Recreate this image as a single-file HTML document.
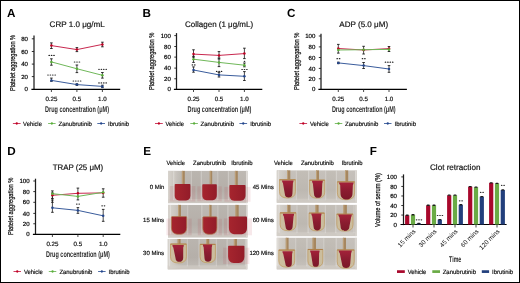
<!DOCTYPE html>
<html><head><meta charset="utf-8"><style>
html,body{margin:0;padding:0;background:#fff;width:520px;height:283px;overflow:hidden;position:relative}
svg{display:block;will-change:transform}
text{font-family:"Liberation Sans",sans-serif;text-rendering:geometricPrecision}
.vl{position:absolute;font-family:"Liberation Sans",sans-serif;white-space:nowrap;line-height:1;font-kerning:none;transform-origin:0 0;will-change:transform;transform:rotate(-90deg);filter:blur(0.25px)}
.vl span{display:inline-block;transform-origin:0 0}
</style></head><body>
<svg xmlns="http://www.w3.org/2000/svg" width="520" height="283" viewBox="0 0 520 283">
<defs>
<linearGradient id="pbg" x1="0" y1="0" x2="0" y2="1">
<stop offset="0" stop-color="#bab5af"/><stop offset="0.6" stop-color="#b5afa9"/><stop offset="1" stop-color="#c2bdb7"/>
</linearGradient>
<linearGradient id="pbg2" x1="0" y1="0" x2="0" y2="1">
<stop offset="0" stop-color="#c3beb7"/><stop offset="0.6" stop-color="#bdb8b1"/><stop offset="1" stop-color="#c8c3bd"/>
</linearGradient>
<linearGradient id="lm" x1="0" y1="0" x2="1" y2="0">
<stop offset="0" stop-color="#d8d4ce" stop-opacity="1"/><stop offset="0.5" stop-color="#d0cbc4" stop-opacity="0.7"/><stop offset="1" stop-color="#c8c3bc" stop-opacity="0"/>
</linearGradient>
<linearGradient id="rg" x1="0" y1="0" x2="1" y2="0">
<stop offset="0" stop-color="#a6252e"/><stop offset="1" stop-color="#931c29"/>
</linearGradient>
<linearGradient id="rg2" x1="0" y1="0" x2="0" y2="1">
<stop offset="0" stop-color="#a4223a"/><stop offset="0.5" stop-color="#8a1c30"/><stop offset="1" stop-color="#7c1828"/>
</linearGradient>
<linearGradient id="tube" x1="0" y1="0" x2="0" y2="1">
<stop offset="0" stop-color="#c6c1ba"/><stop offset="1" stop-color="#cdc9c3"/>
</linearGradient>
</defs>
<rect x="0" y="0" width="520" height="283" fill="#fff"/>
<line x1="34.00" y1="35.60" x2="34.00" y2="90.00" stroke="#1c1c1c" stroke-width="1.25"/>
<line x1="31.40" y1="89.40" x2="120.20" y2="89.40" stroke="#000" stroke-width="1.15"/>
<text x="28.00" y="91.25" font-size="6.1" text-anchor="end" font-weight="normal" fill="#000" stroke="#000" stroke-width="0.18">0</text>
<line x1="31.80" y1="76.60" x2="34.00" y2="76.60" stroke="#1c1c1c" stroke-width="0.9"/>
<text x="28.00" y="78.75" font-size="6.1" text-anchor="end" font-weight="normal" fill="#000" stroke="#000" stroke-width="0.18">20</text>
<line x1="31.80" y1="64.10" x2="34.00" y2="64.10" stroke="#1c1c1c" stroke-width="0.9"/>
<text x="28.00" y="66.25" font-size="6.1" text-anchor="end" font-weight="normal" fill="#000" stroke="#000" stroke-width="0.18">40</text>
<line x1="31.80" y1="51.50" x2="34.00" y2="51.50" stroke="#1c1c1c" stroke-width="0.9"/>
<text x="28.00" y="53.65" font-size="6.1" text-anchor="end" font-weight="normal" fill="#000" stroke="#000" stroke-width="0.18">60</text>
<line x1="31.80" y1="38.80" x2="34.00" y2="38.80" stroke="#1c1c1c" stroke-width="0.9"/>
<text x="28.00" y="40.95" font-size="6.1" text-anchor="end" font-weight="normal" fill="#000" stroke="#000" stroke-width="0.18">80</text>
<line x1="51.40" y1="89.40" x2="51.40" y2="92.00" stroke="#1c1c1c" stroke-width="0.8"/>
<line x1="76.90" y1="89.40" x2="76.90" y2="92.00" stroke="#1c1c1c" stroke-width="0.8"/>
<line x1="102.40" y1="89.40" x2="102.40" y2="92.00" stroke="#1c1c1c" stroke-width="0.8"/>
<text x="51.40" y="100.70" font-size="6.2" text-anchor="middle" font-weight="normal" fill="#111111" stroke="#111111" stroke-width="0.18">0.25</text>
<text x="76.90" y="100.70" font-size="6.2" text-anchor="middle" font-weight="normal" fill="#111111" stroke="#111111" stroke-width="0.18">0.5</text>
<text x="102.40" y="100.70" font-size="6.2" text-anchor="middle" font-weight="normal" fill="#111111" stroke="#111111" stroke-width="0.18">1.0</text>
<text x="45.00" y="112.10" font-size="8.3" font-weight="bold" text-anchor="start" fill="#2a2a2a" textLength="64.00" lengthAdjust="spacingAndGlyphs">Drug concentration (μM)</text>
<text x="49.60" y="27.00" font-size="8" text-anchor="start" font-weight="normal" fill="#111111" textLength="55.20" lengthAdjust="spacingAndGlyphs" stroke="#111111" stroke-width="0.18">CRP 1.0 μg/mL</text>
<text x="7.00" y="16.50" font-size="11.7" text-anchor="start" font-weight="bold" fill="#000">A</text>
<polyline points="51.40,45.60 76.90,49.60 102.40,44.40" fill="none" stroke="#c8284f" stroke-width="1.0"/>
<polyline points="51.40,61.90 76.90,68.75 102.40,75.30" fill="none" stroke="#70b85a" stroke-width="1.0"/>
<polyline points="51.40,80.40 76.90,84.60 102.40,86.40" fill="none" stroke="#3a5c9c" stroke-width="1.0"/>
<line x1="51.40" y1="42.90" x2="51.40" y2="48.50" stroke="#1c1c1c" stroke-width="0.8"/>
<line x1="50.10" y1="42.90" x2="52.70" y2="42.90" stroke="#1c1c1c" stroke-width="0.9"/>
<line x1="50.10" y1="48.50" x2="52.70" y2="48.50" stroke="#1c1c1c" stroke-width="0.9"/>
<line x1="76.90" y1="47.60" x2="76.90" y2="51.60" stroke="#1c1c1c" stroke-width="0.8"/>
<line x1="75.60" y1="47.60" x2="78.20" y2="47.60" stroke="#1c1c1c" stroke-width="0.9"/>
<line x1="75.60" y1="51.60" x2="78.20" y2="51.60" stroke="#1c1c1c" stroke-width="0.9"/>
<line x1="102.40" y1="42.20" x2="102.40" y2="46.80" stroke="#1c1c1c" stroke-width="0.8"/>
<line x1="101.10" y1="42.20" x2="103.70" y2="42.20" stroke="#1c1c1c" stroke-width="0.9"/>
<line x1="101.10" y1="46.80" x2="103.70" y2="46.80" stroke="#1c1c1c" stroke-width="0.9"/>
<line x1="51.40" y1="58.80" x2="51.40" y2="65.20" stroke="#1c1c1c" stroke-width="0.8"/>
<line x1="50.10" y1="58.80" x2="52.70" y2="58.80" stroke="#1c1c1c" stroke-width="0.9"/>
<line x1="50.10" y1="65.20" x2="52.70" y2="65.20" stroke="#1c1c1c" stroke-width="0.9"/>
<line x1="76.90" y1="65.00" x2="76.90" y2="72.60" stroke="#1c1c1c" stroke-width="0.8"/>
<line x1="75.60" y1="65.00" x2="78.20" y2="65.00" stroke="#1c1c1c" stroke-width="0.9"/>
<line x1="75.60" y1="72.60" x2="78.20" y2="72.60" stroke="#1c1c1c" stroke-width="0.9"/>
<line x1="102.40" y1="72.50" x2="102.40" y2="78.10" stroke="#1c1c1c" stroke-width="0.8"/>
<line x1="101.10" y1="72.50" x2="103.70" y2="72.50" stroke="#1c1c1c" stroke-width="0.9"/>
<line x1="101.10" y1="78.10" x2="103.70" y2="78.10" stroke="#1c1c1c" stroke-width="0.9"/>
<line x1="51.40" y1="78.10" x2="51.40" y2="81.30" stroke="#1c1c1c" stroke-width="0.8"/>
<line x1="50.10" y1="78.10" x2="52.70" y2="78.10" stroke="#1c1c1c" stroke-width="0.9"/>
<line x1="50.10" y1="81.30" x2="52.70" y2="81.30" stroke="#1c1c1c" stroke-width="0.9"/>
<line x1="76.90" y1="83.80" x2="76.90" y2="85.40" stroke="#1c1c1c" stroke-width="0.8"/>
<line x1="75.60" y1="83.80" x2="78.20" y2="83.80" stroke="#1c1c1c" stroke-width="0.9"/>
<line x1="75.60" y1="85.40" x2="78.20" y2="85.40" stroke="#1c1c1c" stroke-width="0.9"/>
<line x1="102.40" y1="85.20" x2="102.40" y2="87.60" stroke="#1c1c1c" stroke-width="0.8"/>
<line x1="101.10" y1="85.20" x2="103.70" y2="85.20" stroke="#1c1c1c" stroke-width="0.9"/>
<line x1="101.10" y1="87.60" x2="103.70" y2="87.60" stroke="#1c1c1c" stroke-width="0.9"/>
<circle cx="51.40" cy="45.60" r="1.25" fill="#c00022"/>
<circle cx="76.90" cy="49.60" r="1.25" fill="#c00022"/>
<circle cx="102.40" cy="44.40" r="1.25" fill="#c00022"/>
<circle cx="51.40" cy="61.90" r="1.25" fill="#5aae3a"/>
<circle cx="76.90" cy="68.75" r="1.25" fill="#5aae3a"/>
<circle cx="102.40" cy="75.30" r="1.25" fill="#5aae3a"/>
<circle cx="51.40" cy="80.40" r="1.25" fill="#24468c"/>
<circle cx="76.90" cy="84.60" r="1.25" fill="#24468c"/>
<circle cx="102.40" cy="86.40" r="1.25" fill="#24468c"/>
<ellipse cx="49.20" cy="55.40" rx="0.85" ry="0.6" fill="#1c1c1c"/>
<ellipse cx="51.60" cy="55.40" rx="0.85" ry="0.6" fill="#1c1c1c"/>
<ellipse cx="54.00" cy="55.40" rx="0.85" ry="0.6" fill="#1c1c1c"/>
<ellipse cx="74.60" cy="62.00" rx="0.85" ry="0.6" fill="#1c1c1c"/>
<ellipse cx="77.00" cy="62.00" rx="0.85" ry="0.6" fill="#1c1c1c"/>
<ellipse cx="79.40" cy="62.00" rx="0.85" ry="0.6" fill="#1c1c1c"/>
<ellipse cx="99.00" cy="69.30" rx="0.85" ry="0.6" fill="#1c1c1c"/>
<ellipse cx="101.40" cy="69.30" rx="0.85" ry="0.6" fill="#1c1c1c"/>
<ellipse cx="103.80" cy="69.30" rx="0.85" ry="0.6" fill="#1c1c1c"/>
<ellipse cx="106.20" cy="69.30" rx="0.85" ry="0.6" fill="#1c1c1c"/>
<ellipse cx="48.00" cy="75.00" rx="0.85" ry="0.6" fill="#1c1c1c"/>
<ellipse cx="50.40" cy="75.00" rx="0.85" ry="0.6" fill="#1c1c1c"/>
<ellipse cx="52.80" cy="75.00" rx="0.85" ry="0.6" fill="#1c1c1c"/>
<ellipse cx="55.20" cy="75.00" rx="0.85" ry="0.6" fill="#1c1c1c"/>
<ellipse cx="73.40" cy="81.00" rx="0.85" ry="0.6" fill="#1c1c1c"/>
<ellipse cx="75.80" cy="81.00" rx="0.85" ry="0.6" fill="#1c1c1c"/>
<ellipse cx="78.20" cy="81.00" rx="0.85" ry="0.6" fill="#1c1c1c"/>
<ellipse cx="80.60" cy="81.00" rx="0.85" ry="0.6" fill="#1c1c1c"/>
<ellipse cx="99.00" cy="82.90" rx="0.85" ry="0.6" fill="#1c1c1c"/>
<ellipse cx="101.40" cy="82.90" rx="0.85" ry="0.6" fill="#1c1c1c"/>
<ellipse cx="103.80" cy="82.90" rx="0.85" ry="0.6" fill="#1c1c1c"/>
<ellipse cx="106.20" cy="82.90" rx="0.85" ry="0.6" fill="#1c1c1c"/>
<line x1="12.90" y1="123.50" x2="20.60" y2="123.50" stroke="#c8284f" stroke-width="0.9"/>
<circle cx="16.75" cy="123.50" r="1.15" fill="#c00022"/>
<text x="23.10" y="125.70" font-size="6.2" text-anchor="start" font-weight="normal" fill="#111111" textLength="18.80" lengthAdjust="spacingAndGlyphs" stroke="#111111" stroke-width="0.18">Vehicle</text>
<line x1="48.10" y1="123.50" x2="55.60" y2="123.50" stroke="#70b85a" stroke-width="0.9"/>
<circle cx="51.85" cy="123.50" r="1.15" fill="#5aae3a"/>
<text x="58.50" y="125.70" font-size="6.2" text-anchor="start" font-weight="normal" fill="#111111" textLength="33.40" lengthAdjust="spacingAndGlyphs" stroke="#111111" stroke-width="0.18">Zanubrutinib</text>
<line x1="97.30" y1="123.50" x2="105.00" y2="123.50" stroke="#3a5c9c" stroke-width="0.9"/>
<circle cx="101.15" cy="123.50" r="1.15" fill="#24468c"/>
<text x="108.10" y="125.70" font-size="6.2" text-anchor="start" font-weight="normal" fill="#111111" textLength="20.90" lengthAdjust="spacingAndGlyphs" stroke="#111111" stroke-width="0.18">Ibrutinib</text>
<line x1="176.50" y1="33.10" x2="176.50" y2="90.00" stroke="#1c1c1c" stroke-width="1.25"/>
<line x1="173.90" y1="89.40" x2="262.30" y2="89.40" stroke="#000" stroke-width="1.15"/>
<text x="170.90" y="91.25" font-size="6.1" text-anchor="end" font-weight="normal" fill="#000" stroke="#000" stroke-width="0.18">0</text>
<line x1="174.30" y1="78.75" x2="176.50" y2="78.75" stroke="#1c1c1c" stroke-width="0.9"/>
<text x="170.90" y="80.90" font-size="6.1" text-anchor="end" font-weight="normal" fill="#000" stroke="#000" stroke-width="0.18">20</text>
<line x1="174.30" y1="68.10" x2="176.50" y2="68.10" stroke="#1c1c1c" stroke-width="0.9"/>
<text x="170.90" y="70.25" font-size="6.1" text-anchor="end" font-weight="normal" fill="#000" stroke="#000" stroke-width="0.18">40</text>
<line x1="174.30" y1="57.10" x2="176.50" y2="57.10" stroke="#1c1c1c" stroke-width="0.9"/>
<text x="170.90" y="59.25" font-size="6.1" text-anchor="end" font-weight="normal" fill="#000" stroke="#000" stroke-width="0.18">60</text>
<line x1="174.30" y1="46.50" x2="176.50" y2="46.50" stroke="#1c1c1c" stroke-width="0.9"/>
<text x="170.90" y="48.65" font-size="6.1" text-anchor="end" font-weight="normal" fill="#000" stroke="#000" stroke-width="0.18">80</text>
<line x1="174.30" y1="35.60" x2="176.50" y2="35.60" stroke="#1c1c1c" stroke-width="0.9"/>
<text x="170.90" y="37.75" font-size="6.1" text-anchor="end" font-weight="normal" fill="#000" stroke="#000" stroke-width="0.18">100</text>
<line x1="193.50" y1="89.40" x2="193.50" y2="92.00" stroke="#1c1c1c" stroke-width="0.8"/>
<line x1="219.00" y1="89.40" x2="219.00" y2="92.00" stroke="#1c1c1c" stroke-width="0.8"/>
<line x1="244.40" y1="89.40" x2="244.40" y2="92.00" stroke="#1c1c1c" stroke-width="0.8"/>
<text x="193.50" y="100.70" font-size="6.2" text-anchor="middle" font-weight="normal" fill="#111111" stroke="#111111" stroke-width="0.18">0.25</text>
<text x="219.00" y="100.70" font-size="6.2" text-anchor="middle" font-weight="normal" fill="#111111" stroke="#111111" stroke-width="0.18">0.5</text>
<text x="244.40" y="100.70" font-size="6.2" text-anchor="middle" font-weight="normal" fill="#111111" stroke="#111111" stroke-width="0.18">1.0</text>
<text x="187.50" y="112.10" font-size="8.3" font-weight="bold" text-anchor="start" fill="#2a2a2a" textLength="63.80" lengthAdjust="spacingAndGlyphs">Drug concentration (μM)</text>
<text x="185.10" y="27.00" font-size="8" text-anchor="start" font-weight="normal" fill="#111111" textLength="68.00" lengthAdjust="spacingAndGlyphs" stroke="#111111" stroke-width="0.18">Collagen (1 μg/mL)</text>
<text x="142.60" y="16.50" font-size="11.7" text-anchor="start" font-weight="bold" fill="#000">B</text>
<polyline points="193.50,54.10 219.00,55.40 244.40,53.60" fill="none" stroke="#c8284f" stroke-width="1.0"/>
<polyline points="193.50,59.20 219.00,62.40 244.40,65.20" fill="none" stroke="#70b85a" stroke-width="1.0"/>
<polyline points="193.50,70.00 219.00,74.90 244.40,76.30" fill="none" stroke="#3a5c9c" stroke-width="1.0"/>
<line x1="193.50" y1="49.80" x2="193.50" y2="57.20" stroke="#1c1c1c" stroke-width="0.8"/>
<line x1="192.20" y1="49.80" x2="194.80" y2="49.80" stroke="#1c1c1c" stroke-width="0.9"/>
<line x1="192.20" y1="57.20" x2="194.80" y2="57.20" stroke="#1c1c1c" stroke-width="0.9"/>
<line x1="219.00" y1="51.60" x2="219.00" y2="59.00" stroke="#1c1c1c" stroke-width="0.8"/>
<line x1="217.70" y1="51.60" x2="220.30" y2="51.60" stroke="#1c1c1c" stroke-width="0.9"/>
<line x1="217.70" y1="59.00" x2="220.30" y2="59.00" stroke="#1c1c1c" stroke-width="0.9"/>
<line x1="244.40" y1="48.20" x2="244.40" y2="58.60" stroke="#1c1c1c" stroke-width="0.8"/>
<line x1="243.10" y1="48.20" x2="245.70" y2="48.20" stroke="#1c1c1c" stroke-width="0.9"/>
<line x1="243.10" y1="58.60" x2="245.70" y2="58.60" stroke="#1c1c1c" stroke-width="0.9"/>
<line x1="193.50" y1="56.30" x2="193.50" y2="62.40" stroke="#1c1c1c" stroke-width="0.8"/>
<line x1="192.20" y1="56.30" x2="194.80" y2="56.30" stroke="#1c1c1c" stroke-width="0.9"/>
<line x1="192.20" y1="62.40" x2="194.80" y2="62.40" stroke="#1c1c1c" stroke-width="0.9"/>
<line x1="219.00" y1="58.00" x2="219.00" y2="66.60" stroke="#1c1c1c" stroke-width="0.8"/>
<line x1="217.70" y1="58.00" x2="220.30" y2="58.00" stroke="#1c1c1c" stroke-width="0.9"/>
<line x1="217.70" y1="66.60" x2="220.30" y2="66.60" stroke="#1c1c1c" stroke-width="0.9"/>
<line x1="244.40" y1="63.00" x2="244.40" y2="66.80" stroke="#1c1c1c" stroke-width="0.8"/>
<line x1="243.10" y1="63.00" x2="245.70" y2="63.00" stroke="#1c1c1c" stroke-width="0.9"/>
<line x1="243.10" y1="66.80" x2="245.70" y2="66.80" stroke="#1c1c1c" stroke-width="0.9"/>
<line x1="193.50" y1="66.90" x2="193.50" y2="72.20" stroke="#1c1c1c" stroke-width="0.8"/>
<line x1="192.20" y1="66.90" x2="194.80" y2="66.90" stroke="#1c1c1c" stroke-width="0.9"/>
<line x1="192.20" y1="72.20" x2="194.80" y2="72.20" stroke="#1c1c1c" stroke-width="0.9"/>
<line x1="219.00" y1="72.60" x2="219.00" y2="77.00" stroke="#1c1c1c" stroke-width="0.8"/>
<line x1="217.70" y1="72.60" x2="220.30" y2="72.60" stroke="#1c1c1c" stroke-width="0.9"/>
<line x1="217.70" y1="77.00" x2="220.30" y2="77.00" stroke="#1c1c1c" stroke-width="0.9"/>
<line x1="244.40" y1="71.60" x2="244.40" y2="80.50" stroke="#1c1c1c" stroke-width="0.8"/>
<line x1="243.10" y1="71.60" x2="245.70" y2="71.60" stroke="#1c1c1c" stroke-width="0.9"/>
<line x1="243.10" y1="80.50" x2="245.70" y2="80.50" stroke="#1c1c1c" stroke-width="0.9"/>
<circle cx="193.50" cy="54.10" r="1.25" fill="#c00022"/>
<circle cx="219.00" cy="55.40" r="1.25" fill="#c00022"/>
<circle cx="244.40" cy="53.60" r="1.25" fill="#c00022"/>
<circle cx="193.50" cy="59.20" r="1.25" fill="#5aae3a"/>
<circle cx="219.00" cy="62.40" r="1.25" fill="#5aae3a"/>
<circle cx="244.40" cy="65.20" r="1.25" fill="#5aae3a"/>
<circle cx="193.50" cy="70.00" r="1.25" fill="#24468c"/>
<circle cx="219.00" cy="74.90" r="1.25" fill="#24468c"/>
<circle cx="244.40" cy="76.30" r="1.25" fill="#24468c"/>
<ellipse cx="192.40" cy="64.90" rx="0.85" ry="0.6" fill="#1c1c1c"/>
<ellipse cx="194.80" cy="64.90" rx="0.85" ry="0.6" fill="#1c1c1c"/>
<ellipse cx="216.70" cy="71.40" rx="0.85" ry="0.6" fill="#1c1c1c"/>
<ellipse cx="219.10" cy="71.40" rx="0.85" ry="0.6" fill="#1c1c1c"/>
<ellipse cx="221.50" cy="71.40" rx="0.85" ry="0.6" fill="#1c1c1c"/>
<ellipse cx="244.50" cy="61.30" rx="0.85" ry="0.6" fill="#1c1c1c"/>
<ellipse cx="242.10" cy="69.50" rx="0.85" ry="0.6" fill="#1c1c1c"/>
<ellipse cx="244.50" cy="69.50" rx="0.85" ry="0.6" fill="#1c1c1c"/>
<ellipse cx="246.90" cy="69.50" rx="0.85" ry="0.6" fill="#1c1c1c"/>
<line x1="155.00" y1="123.50" x2="162.80" y2="123.50" stroke="#c8284f" stroke-width="0.9"/>
<circle cx="158.90" cy="123.50" r="1.15" fill="#c00022"/>
<text x="165.60" y="125.70" font-size="6.2" text-anchor="start" font-weight="normal" fill="#111111" textLength="18.40" lengthAdjust="spacingAndGlyphs" stroke="#111111" stroke-width="0.18">Vehicle</text>
<line x1="190.30" y1="123.50" x2="197.90" y2="123.50" stroke="#70b85a" stroke-width="0.9"/>
<circle cx="194.10" cy="123.50" r="1.15" fill="#5aae3a"/>
<text x="200.60" y="125.70" font-size="6.2" text-anchor="start" font-weight="normal" fill="#111111" textLength="33.40" lengthAdjust="spacingAndGlyphs" stroke="#111111" stroke-width="0.18">Zanubrutinib</text>
<line x1="239.40" y1="123.50" x2="247.10" y2="123.50" stroke="#3a5c9c" stroke-width="0.9"/>
<circle cx="243.25" cy="123.50" r="1.15" fill="#24468c"/>
<text x="250.20" y="125.70" font-size="6.2" text-anchor="start" font-weight="normal" fill="#111111" textLength="20.90" lengthAdjust="spacingAndGlyphs" stroke="#111111" stroke-width="0.18">Ibrutinib</text>
<line x1="321.00" y1="33.70" x2="321.00" y2="90.00" stroke="#1c1c1c" stroke-width="1.25"/>
<line x1="318.40" y1="89.40" x2="406.90" y2="89.40" stroke="#000" stroke-width="1.15"/>
<text x="315.30" y="91.25" font-size="6.1" text-anchor="end" font-weight="normal" fill="#000" stroke="#000" stroke-width="0.18">0</text>
<line x1="318.80" y1="78.75" x2="321.00" y2="78.75" stroke="#1c1c1c" stroke-width="0.9"/>
<text x="315.30" y="80.90" font-size="6.1" text-anchor="end" font-weight="normal" fill="#000" stroke="#000" stroke-width="0.18">20</text>
<line x1="318.80" y1="68.40" x2="321.00" y2="68.40" stroke="#1c1c1c" stroke-width="0.9"/>
<text x="315.30" y="70.55" font-size="6.1" text-anchor="end" font-weight="normal" fill="#000" stroke="#000" stroke-width="0.18">40</text>
<line x1="318.80" y1="57.50" x2="321.00" y2="57.50" stroke="#1c1c1c" stroke-width="0.9"/>
<text x="315.30" y="59.65" font-size="6.1" text-anchor="end" font-weight="normal" fill="#000" stroke="#000" stroke-width="0.18">60</text>
<line x1="318.80" y1="46.90" x2="321.00" y2="46.90" stroke="#1c1c1c" stroke-width="0.9"/>
<text x="315.30" y="49.05" font-size="6.1" text-anchor="end" font-weight="normal" fill="#000" stroke="#000" stroke-width="0.18">80</text>
<line x1="318.80" y1="36.00" x2="321.00" y2="36.00" stroke="#1c1c1c" stroke-width="0.9"/>
<text x="315.30" y="38.15" font-size="6.1" text-anchor="end" font-weight="normal" fill="#000" stroke="#000" stroke-width="0.18">100</text>
<line x1="338.30" y1="89.40" x2="338.30" y2="92.00" stroke="#1c1c1c" stroke-width="0.8"/>
<line x1="363.60" y1="89.40" x2="363.60" y2="92.00" stroke="#1c1c1c" stroke-width="0.8"/>
<line x1="389.00" y1="89.40" x2="389.00" y2="92.00" stroke="#1c1c1c" stroke-width="0.8"/>
<text x="338.30" y="100.70" font-size="6.2" text-anchor="middle" font-weight="normal" fill="#111111" stroke="#111111" stroke-width="0.18">0.25</text>
<text x="363.60" y="100.70" font-size="6.2" text-anchor="middle" font-weight="normal" fill="#111111" stroke="#111111" stroke-width="0.18">0.5</text>
<text x="389.00" y="100.70" font-size="6.2" text-anchor="middle" font-weight="normal" fill="#111111" stroke="#111111" stroke-width="0.18">1.0</text>
<text x="331.90" y="112.10" font-size="8.3" font-weight="bold" text-anchor="start" fill="#2a2a2a" textLength="63.70" lengthAdjust="spacingAndGlyphs">Drug concentration (μM)</text>
<text x="339.30" y="27.00" font-size="8" text-anchor="start" font-weight="normal" fill="#111111" textLength="48.80" lengthAdjust="spacingAndGlyphs" stroke="#111111" stroke-width="0.18">ADP (5.0 μM)</text>
<text x="286.90" y="16.50" font-size="11.7" text-anchor="start" font-weight="bold" fill="#000">C</text>
<polyline points="338.30,48.50 363.60,50.00 389.00,48.60" fill="none" stroke="#c8284f" stroke-width="1.0"/>
<polyline points="338.30,50.00 363.60,49.70 389.00,49.40" fill="none" stroke="#70b85a" stroke-width="1.0"/>
<polyline points="338.30,62.90 363.60,65.60 389.00,69.00" fill="none" stroke="#3a5c9c" stroke-width="1.0"/>
<line x1="338.30" y1="44.40" x2="338.30" y2="53.10" stroke="#1c1c1c" stroke-width="0.8"/>
<line x1="337.00" y1="44.40" x2="339.60" y2="44.40" stroke="#1c1c1c" stroke-width="0.9"/>
<line x1="337.00" y1="53.10" x2="339.60" y2="53.10" stroke="#1c1c1c" stroke-width="0.9"/>
<line x1="363.60" y1="46.30" x2="363.60" y2="54.00" stroke="#1c1c1c" stroke-width="0.8"/>
<line x1="362.30" y1="46.30" x2="364.90" y2="46.30" stroke="#1c1c1c" stroke-width="0.9"/>
<line x1="362.30" y1="54.00" x2="364.90" y2="54.00" stroke="#1c1c1c" stroke-width="0.9"/>
<line x1="389.00" y1="46.50" x2="389.00" y2="51.50" stroke="#1c1c1c" stroke-width="0.8"/>
<line x1="387.70" y1="46.50" x2="390.30" y2="46.50" stroke="#1c1c1c" stroke-width="0.9"/>
<line x1="387.70" y1="51.50" x2="390.30" y2="51.50" stroke="#1c1c1c" stroke-width="0.9"/>
<line x1="338.30" y1="62.20" x2="338.30" y2="63.60" stroke="#1c1c1c" stroke-width="0.8"/>
<line x1="337.00" y1="62.20" x2="339.60" y2="62.20" stroke="#1c1c1c" stroke-width="0.9"/>
<line x1="337.00" y1="63.60" x2="339.60" y2="63.60" stroke="#1c1c1c" stroke-width="0.9"/>
<line x1="363.60" y1="62.50" x2="363.60" y2="68.50" stroke="#1c1c1c" stroke-width="0.8"/>
<line x1="362.30" y1="62.50" x2="364.90" y2="62.50" stroke="#1c1c1c" stroke-width="0.9"/>
<line x1="362.30" y1="68.50" x2="364.90" y2="68.50" stroke="#1c1c1c" stroke-width="0.9"/>
<line x1="389.00" y1="65.60" x2="389.00" y2="72.30" stroke="#1c1c1c" stroke-width="0.8"/>
<line x1="387.70" y1="65.60" x2="390.30" y2="65.60" stroke="#1c1c1c" stroke-width="0.9"/>
<line x1="387.70" y1="72.30" x2="390.30" y2="72.30" stroke="#1c1c1c" stroke-width="0.9"/>
<circle cx="338.30" cy="48.50" r="1.25" fill="#c00022"/>
<circle cx="363.60" cy="50.00" r="1.25" fill="#c00022"/>
<circle cx="389.00" cy="48.60" r="1.25" fill="#c00022"/>
<circle cx="338.30" cy="50.00" r="1.25" fill="#5aae3a"/>
<circle cx="363.60" cy="49.70" r="1.25" fill="#5aae3a"/>
<circle cx="389.00" cy="49.40" r="1.25" fill="#5aae3a"/>
<circle cx="338.30" cy="62.90" r="1.25" fill="#24468c"/>
<circle cx="363.60" cy="65.60" r="1.25" fill="#24468c"/>
<circle cx="389.00" cy="69.00" r="1.25" fill="#24468c"/>
<ellipse cx="337.20" cy="58.70" rx="0.85" ry="0.6" fill="#1c1c1c"/>
<ellipse cx="339.60" cy="58.70" rx="0.85" ry="0.6" fill="#1c1c1c"/>
<ellipse cx="362.50" cy="58.70" rx="0.85" ry="0.6" fill="#1c1c1c"/>
<ellipse cx="364.90" cy="58.70" rx="0.85" ry="0.6" fill="#1c1c1c"/>
<ellipse cx="385.50" cy="62.20" rx="0.85" ry="0.6" fill="#1c1c1c"/>
<ellipse cx="387.90" cy="62.20" rx="0.85" ry="0.6" fill="#1c1c1c"/>
<ellipse cx="390.30" cy="62.20" rx="0.85" ry="0.6" fill="#1c1c1c"/>
<ellipse cx="392.70" cy="62.20" rx="0.85" ry="0.6" fill="#1c1c1c"/>
<line x1="299.40" y1="123.50" x2="307.10" y2="123.50" stroke="#c8284f" stroke-width="0.9"/>
<circle cx="303.25" cy="123.50" r="1.15" fill="#c00022"/>
<text x="310.00" y="125.70" font-size="6.2" text-anchor="start" font-weight="normal" fill="#111111" textLength="18.80" lengthAdjust="spacingAndGlyphs" stroke="#111111" stroke-width="0.18">Vehicle</text>
<line x1="334.80" y1="123.50" x2="342.30" y2="123.50" stroke="#70b85a" stroke-width="0.9"/>
<circle cx="338.55" cy="123.50" r="1.15" fill="#5aae3a"/>
<text x="345.00" y="125.70" font-size="6.2" text-anchor="start" font-weight="normal" fill="#111111" textLength="33.30" lengthAdjust="spacingAndGlyphs" stroke="#111111" stroke-width="0.18">Zanubrutinib</text>
<line x1="384.00" y1="123.50" x2="391.50" y2="123.50" stroke="#3a5c9c" stroke-width="0.9"/>
<circle cx="387.75" cy="123.50" r="1.15" fill="#24468c"/>
<text x="394.60" y="125.70" font-size="6.2" text-anchor="start" font-weight="normal" fill="#111111" textLength="21.40" lengthAdjust="spacingAndGlyphs" stroke="#111111" stroke-width="0.18">Ibrutinib</text>
<line x1="35.50" y1="178.70" x2="35.50" y2="235.00" stroke="#1c1c1c" stroke-width="1.25"/>
<line x1="32.90" y1="234.40" x2="120.30" y2="234.40" stroke="#000" stroke-width="1.15"/>
<text x="29.60" y="236.15" font-size="6.1" text-anchor="end" font-weight="normal" fill="#000" stroke="#000" stroke-width="0.18">0</text>
<line x1="33.30" y1="223.75" x2="35.50" y2="223.75" stroke="#1c1c1c" stroke-width="0.9"/>
<text x="29.60" y="225.90" font-size="6.1" text-anchor="end" font-weight="normal" fill="#000" stroke="#000" stroke-width="0.18">20</text>
<line x1="33.30" y1="213.40" x2="35.50" y2="213.40" stroke="#1c1c1c" stroke-width="0.9"/>
<text x="29.60" y="215.55" font-size="6.1" text-anchor="end" font-weight="normal" fill="#000" stroke="#000" stroke-width="0.18">40</text>
<line x1="33.30" y1="202.30" x2="35.50" y2="202.30" stroke="#1c1c1c" stroke-width="0.9"/>
<text x="29.60" y="204.45" font-size="6.1" text-anchor="end" font-weight="normal" fill="#000" stroke="#000" stroke-width="0.18">60</text>
<line x1="33.30" y1="191.60" x2="35.50" y2="191.60" stroke="#1c1c1c" stroke-width="0.9"/>
<text x="29.60" y="193.75" font-size="6.1" text-anchor="end" font-weight="normal" fill="#000" stroke="#000" stroke-width="0.18">80</text>
<line x1="33.30" y1="181.00" x2="35.50" y2="181.00" stroke="#1c1c1c" stroke-width="0.9"/>
<text x="29.60" y="183.15" font-size="6.1" text-anchor="end" font-weight="normal" fill="#000" stroke="#000" stroke-width="0.18">100</text>
<line x1="52.40" y1="234.40" x2="52.40" y2="237.00" stroke="#1c1c1c" stroke-width="0.8"/>
<line x1="77.90" y1="234.40" x2="77.90" y2="237.00" stroke="#1c1c1c" stroke-width="0.8"/>
<line x1="103.20" y1="234.40" x2="103.20" y2="237.00" stroke="#1c1c1c" stroke-width="0.8"/>
<text x="52.40" y="245.50" font-size="6.2" text-anchor="middle" font-weight="normal" fill="#111111" stroke="#111111" stroke-width="0.18">0.25</text>
<text x="77.90" y="245.50" font-size="6.2" text-anchor="middle" font-weight="normal" fill="#111111" stroke="#111111" stroke-width="0.18">0.5</text>
<text x="103.20" y="245.50" font-size="6.2" text-anchor="middle" font-weight="normal" fill="#111111" stroke="#111111" stroke-width="0.18">1.0</text>
<text x="46.00" y="257.10" font-size="8.3" font-weight="bold" text-anchor="start" fill="#2a2a2a" textLength="63.80" lengthAdjust="spacingAndGlyphs">Drug concentration (μM)</text>
<text x="52.70" y="170.20" font-size="8" text-anchor="start" font-weight="normal" fill="#111111" textLength="50.50" lengthAdjust="spacingAndGlyphs" stroke="#111111" stroke-width="0.18">TRAP (25 μM)</text>
<text x="7.20" y="155.30" font-size="11.7" text-anchor="start" font-weight="bold" fill="#000">D</text>
<polyline points="52.40,195.30 77.90,193.30 103.20,192.90" fill="none" stroke="#c8284f" stroke-width="1.0"/>
<polyline points="52.40,193.70 77.90,196.40 103.20,192.30" fill="none" stroke="#70b85a" stroke-width="1.0"/>
<polyline points="52.40,207.80 77.90,210.40 103.20,215.80" fill="none" stroke="#3a5c9c" stroke-width="1.0"/>
<line x1="52.40" y1="190.90" x2="52.40" y2="198.50" stroke="#1c1c1c" stroke-width="0.8"/>
<line x1="51.10" y1="190.90" x2="53.70" y2="190.90" stroke="#1c1c1c" stroke-width="0.9"/>
<line x1="51.10" y1="198.50" x2="53.70" y2="198.50" stroke="#1c1c1c" stroke-width="0.9"/>
<line x1="77.90" y1="188.10" x2="77.90" y2="199.90" stroke="#1c1c1c" stroke-width="0.8"/>
<line x1="76.60" y1="188.10" x2="79.20" y2="188.10" stroke="#1c1c1c" stroke-width="0.9"/>
<line x1="76.60" y1="199.90" x2="79.20" y2="199.90" stroke="#1c1c1c" stroke-width="0.9"/>
<line x1="103.20" y1="188.80" x2="103.20" y2="197.20" stroke="#1c1c1c" stroke-width="0.8"/>
<line x1="101.90" y1="188.80" x2="104.50" y2="188.80" stroke="#1c1c1c" stroke-width="0.9"/>
<line x1="101.90" y1="197.20" x2="104.50" y2="197.20" stroke="#1c1c1c" stroke-width="0.9"/>
<line x1="52.40" y1="193.00" x2="52.40" y2="202.30" stroke="#1c1c1c" stroke-width="0.8"/>
<line x1="51.10" y1="193.00" x2="53.70" y2="193.00" stroke="#1c1c1c" stroke-width="0.9"/>
<line x1="51.10" y1="202.30" x2="53.70" y2="202.30" stroke="#1c1c1c" stroke-width="0.9"/>
<line x1="52.40" y1="200.00" x2="52.40" y2="212.30" stroke="#1c1c1c" stroke-width="0.8"/>
<line x1="51.10" y1="200.00" x2="53.70" y2="200.00" stroke="#1c1c1c" stroke-width="0.9"/>
<line x1="51.10" y1="212.30" x2="53.70" y2="212.30" stroke="#1c1c1c" stroke-width="0.9"/>
<line x1="77.90" y1="207.60" x2="77.90" y2="213.30" stroke="#1c1c1c" stroke-width="0.8"/>
<line x1="76.60" y1="207.60" x2="79.20" y2="207.60" stroke="#1c1c1c" stroke-width="0.9"/>
<line x1="76.60" y1="213.30" x2="79.20" y2="213.30" stroke="#1c1c1c" stroke-width="0.9"/>
<line x1="103.20" y1="209.40" x2="103.20" y2="221.30" stroke="#1c1c1c" stroke-width="0.8"/>
<line x1="101.90" y1="209.40" x2="104.50" y2="209.40" stroke="#1c1c1c" stroke-width="0.9"/>
<line x1="101.90" y1="221.30" x2="104.50" y2="221.30" stroke="#1c1c1c" stroke-width="0.9"/>
<circle cx="52.40" cy="195.30" r="1.25" fill="#c00022"/>
<circle cx="77.90" cy="193.30" r="1.25" fill="#c00022"/>
<circle cx="103.20" cy="192.90" r="1.25" fill="#c00022"/>
<circle cx="52.40" cy="193.70" r="1.25" fill="#5aae3a"/>
<circle cx="77.90" cy="196.40" r="1.25" fill="#5aae3a"/>
<circle cx="103.20" cy="192.30" r="1.25" fill="#5aae3a"/>
<circle cx="52.40" cy="207.80" r="1.25" fill="#24468c"/>
<circle cx="77.90" cy="210.40" r="1.25" fill="#24468c"/>
<circle cx="103.20" cy="215.80" r="1.25" fill="#24468c"/>
<ellipse cx="76.80" cy="204.10" rx="0.85" ry="0.6" fill="#1c1c1c"/>
<ellipse cx="79.20" cy="204.10" rx="0.85" ry="0.6" fill="#1c1c1c"/>
<ellipse cx="102.10" cy="205.80" rx="0.85" ry="0.6" fill="#1c1c1c"/>
<ellipse cx="104.50" cy="205.80" rx="0.85" ry="0.6" fill="#1c1c1c"/>
<line x1="13.50" y1="271.50" x2="21.00" y2="271.50" stroke="#c8284f" stroke-width="0.9"/>
<circle cx="17.25" cy="271.50" r="1.15" fill="#c00022"/>
<text x="24.00" y="273.70" font-size="6.2" text-anchor="start" font-weight="normal" fill="#111111" textLength="18.80" lengthAdjust="spacingAndGlyphs" stroke="#111111" stroke-width="0.18">Vehicle</text>
<line x1="48.80" y1="271.50" x2="56.30" y2="271.50" stroke="#70b85a" stroke-width="0.9"/>
<circle cx="52.55" cy="271.50" r="1.15" fill="#5aae3a"/>
<text x="59.40" y="273.70" font-size="6.2" text-anchor="start" font-weight="normal" fill="#111111" textLength="32.90" lengthAdjust="spacingAndGlyphs" stroke="#111111" stroke-width="0.18">Zanubrutinib</text>
<line x1="98.10" y1="271.50" x2="105.60" y2="271.50" stroke="#3a5c9c" stroke-width="0.9"/>
<circle cx="101.85" cy="271.50" r="1.15" fill="#24468c"/>
<text x="108.50" y="273.70" font-size="6.2" text-anchor="start" font-weight="normal" fill="#111111" textLength="21.00" lengthAdjust="spacingAndGlyphs" stroke="#111111" stroke-width="0.18">Ibrutinib</text>
<line x1="403.50" y1="174.40" x2="403.50" y2="225.10" stroke="#1c1c1c" stroke-width="1.25"/>
<line x1="400.50" y1="224.50" x2="506.60" y2="224.50" stroke="#000" stroke-width="1.2"/>
<text x="397.00" y="226.75" font-size="6.1" text-anchor="end" font-weight="normal" fill="#000" stroke="#000" stroke-width="0.18">0</text>
<line x1="401.30" y1="215.06" x2="403.50" y2="215.06" stroke="#1c1c1c" stroke-width="0.9"/>
<text x="397.00" y="217.21" font-size="6.1" text-anchor="end" font-weight="normal" fill="#000" stroke="#000" stroke-width="0.18">20</text>
<line x1="401.30" y1="205.52" x2="403.50" y2="205.52" stroke="#1c1c1c" stroke-width="0.9"/>
<text x="397.00" y="207.67" font-size="6.1" text-anchor="end" font-weight="normal" fill="#000" stroke="#000" stroke-width="0.18">40</text>
<line x1="401.30" y1="195.98" x2="403.50" y2="195.98" stroke="#1c1c1c" stroke-width="0.9"/>
<text x="397.00" y="198.13" font-size="6.1" text-anchor="end" font-weight="normal" fill="#000" stroke="#000" stroke-width="0.18">60</text>
<line x1="401.30" y1="186.44" x2="403.50" y2="186.44" stroke="#1c1c1c" stroke-width="0.9"/>
<text x="397.00" y="188.59" font-size="6.1" text-anchor="end" font-weight="normal" fill="#000" stroke="#000" stroke-width="0.18">80</text>
<line x1="401.30" y1="176.90" x2="403.50" y2="176.90" stroke="#1c1c1c" stroke-width="0.9"/>
<text x="397.00" y="179.05" font-size="6.1" text-anchor="end" font-weight="normal" fill="#000" stroke="#000" stroke-width="0.18">100</text>
<line x1="413.00" y1="224.50" x2="413.00" y2="227.50" stroke="#1c1c1c" stroke-width="0.8"/>
<rect x="405.10" y="215.30" width="4.2" height="9.20" fill="#a8082c"/>
<rect x="405.70" y="214.60" width="3.00" height="1.3" rx="0.6" fill="#1c1c1c"/>
<rect x="410.90" y="214.82" width="4.2" height="9.68" fill="#6aab45"/>
<rect x="411.50" y="214.12" width="3.00" height="1.3" rx="0.6" fill="#1c1c1c"/>
<rect x="416.70" y="223.41" width="4.2" height="1.09" fill="#223f7c"/>
<rect x="417.30" y="222.71" width="3.00" height="1.3" rx="0.6" fill="#1c1c1c"/>
<line x1="434.00" y1="224.50" x2="434.00" y2="227.50" stroke="#1c1c1c" stroke-width="0.8"/>
<rect x="426.10" y="205.28" width="4.2" height="19.22" fill="#a8082c"/>
<rect x="426.70" y="204.58" width="3.00" height="1.3" rx="0.6" fill="#1c1c1c"/>
<rect x="431.90" y="205.28" width="4.2" height="19.22" fill="#6aab45"/>
<rect x="432.50" y="204.58" width="3.00" height="1.3" rx="0.6" fill="#1c1c1c"/>
<rect x="437.70" y="219.59" width="4.2" height="4.91" fill="#223f7c"/>
<rect x="438.30" y="218.89" width="3.00" height="1.3" rx="0.6" fill="#1c1c1c"/>
<line x1="455.00" y1="224.50" x2="455.00" y2="227.50" stroke="#1c1c1c" stroke-width="0.8"/>
<rect x="447.10" y="195.26" width="4.2" height="29.24" fill="#a8082c"/>
<rect x="447.70" y="194.56" width="3.00" height="1.3" rx="0.6" fill="#1c1c1c"/>
<rect x="452.90" y="195.26" width="4.2" height="29.24" fill="#6aab45"/>
<rect x="453.50" y="194.56" width="3.00" height="1.3" rx="0.6" fill="#1c1c1c"/>
<rect x="458.70" y="204.80" width="4.2" height="19.70" fill="#223f7c"/>
<rect x="459.30" y="204.10" width="3.00" height="1.3" rx="0.6" fill="#1c1c1c"/>
<line x1="476.00" y1="224.50" x2="476.00" y2="227.50" stroke="#1c1c1c" stroke-width="0.8"/>
<rect x="468.10" y="186.68" width="4.2" height="37.82" fill="#a8082c"/>
<rect x="468.70" y="185.98" width="3.00" height="1.3" rx="0.6" fill="#1c1c1c"/>
<rect x="473.90" y="187.16" width="4.2" height="37.34" fill="#6aab45"/>
<rect x="474.50" y="186.46" width="3.00" height="1.3" rx="0.6" fill="#1c1c1c"/>
<rect x="479.70" y="196.70" width="4.2" height="27.80" fill="#223f7c"/>
<rect x="480.30" y="196.00" width="3.00" height="1.3" rx="0.6" fill="#1c1c1c"/>
<line x1="497.00" y1="224.50" x2="497.00" y2="227.50" stroke="#1c1c1c" stroke-width="0.8"/>
<rect x="489.10" y="182.86" width="4.2" height="41.64" fill="#a8082c"/>
<rect x="489.70" y="182.16" width="3.00" height="1.3" rx="0.6" fill="#1c1c1c"/>
<rect x="494.90" y="183.34" width="4.2" height="41.16" fill="#6aab45"/>
<rect x="495.50" y="182.64" width="3.00" height="1.3" rx="0.6" fill="#1c1c1c"/>
<rect x="500.70" y="190.02" width="4.2" height="34.48" fill="#223f7c"/>
<rect x="501.30" y="189.32" width="3.00" height="1.3" rx="0.6" fill="#1c1c1c"/>
<ellipse cx="416.60" cy="219.80" rx="0.85" ry="0.6" fill="#1c1c1c"/>
<ellipse cx="419.00" cy="219.80" rx="0.85" ry="0.6" fill="#1c1c1c"/>
<ellipse cx="421.40" cy="219.80" rx="0.85" ry="0.6" fill="#1c1c1c"/>
<ellipse cx="437.60" cy="215.50" rx="0.85" ry="0.6" fill="#1c1c1c"/>
<ellipse cx="440.00" cy="215.50" rx="0.85" ry="0.6" fill="#1c1c1c"/>
<ellipse cx="442.40" cy="215.50" rx="0.85" ry="0.6" fill="#1c1c1c"/>
<ellipse cx="459.70" cy="200.80" rx="0.85" ry="0.6" fill="#1c1c1c"/>
<ellipse cx="462.10" cy="200.80" rx="0.85" ry="0.6" fill="#1c1c1c"/>
<ellipse cx="480.70" cy="192.30" rx="0.85" ry="0.6" fill="#1c1c1c"/>
<ellipse cx="483.10" cy="192.30" rx="0.85" ry="0.6" fill="#1c1c1c"/>
<ellipse cx="501.70" cy="185.30" rx="0.85" ry="0.6" fill="#1c1c1c"/>
<ellipse cx="504.10" cy="185.30" rx="0.85" ry="0.6" fill="#1c1c1c"/>
<text transform="translate(416.00,231.80) rotate(-45)" x="0" y="0" font-size="6.4" text-anchor="end" fill="#111111">15 mins</text>
<text transform="translate(437.00,231.80) rotate(-45)" x="0" y="0" font-size="6.4" text-anchor="end" fill="#111111">30 mins</text>
<text transform="translate(458.00,231.80) rotate(-45)" x="0" y="0" font-size="6.4" text-anchor="end" fill="#111111">45 mins</text>
<text transform="translate(479.00,231.80) rotate(-45)" x="0" y="0" font-size="6.4" text-anchor="end" fill="#111111">60 mins</text>
<text transform="translate(500.00,231.80) rotate(-45)" x="0" y="0" font-size="6.4" text-anchor="end" fill="#111111">120 mins</text>
<text x="449.10" y="262.20" font-size="8.3" font-weight="bold" text-anchor="start" fill="#2a2a2a" textLength="12.10" lengthAdjust="spacingAndGlyphs">Time</text>
<text x="430.00" y="170.00" font-size="8" text-anchor="start" font-weight="normal" fill="#111111" textLength="50.40" lengthAdjust="spacingAndGlyphs" stroke="#111111" stroke-width="0.18">Clot retraction</text>
<text x="369.70" y="155.30" font-size="11.7" text-anchor="start" font-weight="bold" fill="#000">F</text>
<rect x="397.00" y="270.25" width="7.80" height="2.7" fill="#a8082c"/>
<text x="407.70" y="273.70" font-size="6.2" text-anchor="start" font-weight="normal" fill="#111111" textLength="18.60" lengthAdjust="spacingAndGlyphs" stroke="#111111" stroke-width="0.18">Vehicle</text>
<rect x="432.30" y="270.25" width="7.70" height="2.7" fill="#6aab45"/>
<text x="442.70" y="273.70" font-size="6.2" text-anchor="start" font-weight="normal" fill="#111111" textLength="33.30" lengthAdjust="spacingAndGlyphs" stroke="#111111" stroke-width="0.18">Zanubrutinib</text>
<rect x="481.80" y="270.25" width="7.30" height="2.7" fill="#223f7c"/>
<text x="492.10" y="273.70" font-size="6.2" text-anchor="start" font-weight="normal" fill="#111111" textLength="21.00" lengthAdjust="spacingAndGlyphs" stroke="#111111" stroke-width="0.18">Ibrutinib</text>
<rect x="168.00" y="170.90" width="79.50" height="32.20" fill="url(#pbg)"/>
<rect x="168.00" y="170.90" width="14" height="32.20" fill="url(#lm)"/>
<rect x="168.00" y="199.10" width="79.50" height="4" fill="#d2cdc7" opacity="0.6"/>
<rect x="246.00" y="170.90" width="1.5" height="32.20" fill="#dcd8d3" opacity="0.8"/>
<rect x="169.70" y="186.00" width="25.70" height="15.60" fill="#b02030" opacity="0.10"/>
<rect x="197.30" y="186.30" width="24.50" height="15.00" fill="#b02030" opacity="0.10"/>
<rect x="224.40" y="186.90" width="26.10" height="14.90" fill="#b02030" opacity="0.10"/>
<rect x="173.10" y="170.90" width="18.90" height="31.20" rx="2.5" fill="#ffffff" opacity="0.06"/>
<rect x="173.10" y="170.90" width="1.2" height="29.20" fill="#ffffff" opacity="0.25"/>
<rect x="190.80" y="170.90" width="1.2" height="29.20" fill="#ffffff" opacity="0.2"/>
<rect x="200.70" y="170.90" width="17.70" height="31.20" rx="2.5" fill="#ffffff" opacity="0.06"/>
<rect x="200.70" y="170.90" width="1.2" height="29.20" fill="#ffffff" opacity="0.25"/>
<rect x="217.20" y="170.90" width="1.2" height="29.20" fill="#ffffff" opacity="0.2"/>
<rect x="227.80" y="170.90" width="19.30" height="31.20" rx="2.5" fill="#ffffff" opacity="0.06"/>
<rect x="227.80" y="170.90" width="1.2" height="29.20" fill="#ffffff" opacity="0.25"/>
<rect x="245.90" y="170.90" width="1.2" height="29.20" fill="#ffffff" opacity="0.2"/>
<rect x="181.90" y="170.90" width="2.90" height="13.60" fill="#a68760"/>
<rect x="181.90" y="170.90" width="0.9" height="13.60" fill="#c0a47c"/>
<path d="M174.70,184.80 Q174.70,184.00 175.50,184.00 L189.60,184.00 Q190.40,184.00 190.40,184.80 L190.40,195.26 C190.40,199.53 187.73,200.60 185.06,200.60 L180.04,200.60 C177.37,200.60 174.70,199.53 174.70,195.26 Z" fill="url(#rg)"/>
<rect x="209.80" y="170.90" width="2.40" height="13.60" fill="#a68760"/>
<rect x="209.80" y="170.90" width="0.9" height="13.60" fill="#c0a47c"/>
<path d="M202.30,185.10 Q202.30,184.30 203.10,184.30 L216.00,184.30 Q216.80,184.30 216.80,185.10 L216.80,195.08 C216.80,199.26 214.19,200.30 211.58,200.30 L207.52,200.30 C204.91,200.30 202.30,199.26 202.30,195.08 Z" fill="url(#rg)"/>
<rect x="234.90" y="170.90" width="2.90" height="14.30" fill="#a68760"/>
<rect x="234.90" y="170.90" width="0.9" height="14.30" fill="#c0a47c"/>
<path d="M229.40,185.70 Q229.40,184.90 230.20,184.90 L244.70,184.90 Q245.50,184.90 245.50,185.70 L245.50,195.00 C245.50,199.64 242.60,200.80 239.70,200.80 L235.20,200.80 C232.30,200.80 229.40,199.64 229.40,195.00 Z" fill="url(#rg)"/>
<rect x="168.00" y="204.90" width="79.50" height="32.50" fill="url(#pbg)"/>
<rect x="168.00" y="204.90" width="14" height="32.50" fill="url(#lm)"/>
<rect x="168.00" y="233.40" width="79.50" height="4" fill="#d2cdc7" opacity="0.6"/>
<rect x="246.00" y="204.90" width="1.5" height="32.50" fill="#dcd8d3" opacity="0.8"/>
<rect x="166.40" y="218.60" width="25.30" height="16.70" fill="#b02030" opacity="0.10"/>
<rect x="197.80" y="218.80" width="24.10" height="16.50" fill="#b02030" opacity="0.10"/>
<rect x="223.90" y="218.40" width="28.10" height="16.90" fill="#b02030" opacity="0.10"/>
<rect x="169.80" y="204.90" width="18.50" height="31.50" rx="2.5" fill="#ffffff" opacity="0.06"/>
<rect x="169.80" y="204.90" width="1.2" height="29.50" fill="#ffffff" opacity="0.25"/>
<rect x="187.10" y="204.90" width="1.2" height="29.50" fill="#ffffff" opacity="0.2"/>
<rect x="201.20" y="204.90" width="17.30" height="31.50" rx="2.5" fill="#ffffff" opacity="0.06"/>
<rect x="201.20" y="204.90" width="1.2" height="29.50" fill="#ffffff" opacity="0.25"/>
<rect x="217.30" y="204.90" width="1.2" height="29.50" fill="#ffffff" opacity="0.2"/>
<rect x="227.30" y="204.90" width="21.30" height="31.50" rx="2.5" fill="#ffffff" opacity="0.06"/>
<rect x="227.30" y="204.90" width="1.2" height="29.50" fill="#ffffff" opacity="0.25"/>
<rect x="247.40" y="204.90" width="1.2" height="29.50" fill="#ffffff" opacity="0.2"/>
<rect x="178.10" y="204.90" width="2.90" height="12.10" fill="#a68760"/>
<rect x="178.10" y="204.90" width="0.9" height="12.10" fill="#c0a47c"/>
<path d="M171.40,217.40 Q171.40,216.60 172.20,216.60 L185.90,216.60 Q186.70,216.60 186.70,217.40 L186.70,227.26 C186.70,232.89 183.18,234.30 179.66,234.30 L178.44,234.30 C174.92,234.30 171.40,232.89 171.40,227.26 Z" fill="url(#rg)" stroke="#b07a50" stroke-width="0.8" stroke-opacity="0.9"/>
<rect x="209.10" y="204.90" width="2.50" height="12.10" fill="#a68760"/>
<rect x="209.10" y="204.90" width="0.9" height="12.10" fill="#c0a47c"/>
<path d="M202.80,217.60 Q202.80,216.80 203.60,216.80 L216.10,216.80 Q216.90,216.80 216.90,217.60 L216.90,227.81 C216.90,233.00 213.66,234.30 210.41,234.30 L209.29,234.30 C206.04,234.30 202.80,233.00 202.80,227.81 Z" fill="url(#rg)" stroke="#b07a50" stroke-width="0.8" stroke-opacity="0.9"/>
<rect x="235.50" y="204.90" width="3.20" height="12.10" fill="#a68760"/>
<rect x="235.50" y="204.90" width="0.9" height="12.10" fill="#c0a47c"/>
<path d="M228.90,217.20 Q228.90,216.40 229.70,216.40 L246.20,216.40 Q247.00,216.40 247.00,217.20 L247.00,227.78 C247.00,233.00 243.74,234.30 240.48,234.30 L235.42,234.30 C232.16,234.30 228.90,233.00 228.90,227.78 Z" fill="url(#rg)"/>
<rect x="167.80" y="239.00" width="79.50" height="30.30" fill="url(#pbg)"/>
<rect x="167.80" y="239.00" width="14" height="30.30" fill="url(#lm)"/>
<rect x="167.80" y="265.30" width="79.50" height="4" fill="#d2cdc7" opacity="0.6"/>
<rect x="245.80" y="239.00" width="1.5" height="30.30" fill="#dcd8d3" opacity="0.8"/>
<rect x="223.10" y="247.70" width="26.30" height="16.40" fill="#b02030" opacity="0.10"/>
<rect x="168.90" y="239.00" width="19.10" height="29.30" rx="2.5" fill="#ffffff" opacity="0.06"/>
<rect x="168.90" y="239.00" width="1.2" height="27.30" fill="#ffffff" opacity="0.25"/>
<rect x="186.80" y="239.00" width="1.2" height="27.30" fill="#ffffff" opacity="0.2"/>
<rect x="198.50" y="239.00" width="18.50" height="29.30" rx="2.5" fill="#ffffff" opacity="0.06"/>
<rect x="198.50" y="239.00" width="1.2" height="27.30" fill="#ffffff" opacity="0.25"/>
<rect x="215.80" y="239.00" width="1.2" height="27.30" fill="#ffffff" opacity="0.2"/>
<rect x="226.50" y="239.00" width="19.50" height="29.30" rx="2.5" fill="#ffffff" opacity="0.06"/>
<rect x="226.50" y="239.00" width="1.2" height="27.30" fill="#ffffff" opacity="0.25"/>
<rect x="244.80" y="239.00" width="1.2" height="27.30" fill="#ffffff" opacity="0.2"/>
<rect x="177.70" y="239.00" width="2.90" height="6.00" fill="#a68760"/>
<rect x="177.70" y="239.00" width="0.9" height="6.00" fill="#c0a47c"/>
<path d="M170.50,244.00 L186.40,244.00 L186.40,256.64 Q186.40,263.00 178.45,263.00 Q170.50,263.00 170.50,256.64 Z" fill="#cbbd9c" fill-opacity="0.95" stroke="#c09a5c" stroke-width="0.7"/>
<rect x="170.50" y="243.60" width="15.90" height="1.0" fill="#b0804a"/>
<path d="M172.40,244.90 L183.80,244.90 Q183.80,246.70 183.23,247.50 L183.20,257.95 C183.20,260.65 181.27,261.80 179.35,261.80 C177.43,261.80 175.50,260.65 175.50,257.95 L173.31,247.50 Q172.40,246.70 172.40,244.90 Z" fill="url(#rg2)"/>
<rect x="206.20" y="239.00" width="3.10" height="6.00" fill="#a68760"/>
<rect x="206.20" y="239.00" width="0.9" height="6.00" fill="#c0a47c"/>
<path d="M200.10,244.30 L215.40,244.30 L215.40,256.68 Q215.40,262.80 207.75,262.80 Q200.10,262.80 200.10,256.68 Z" fill="#cbbd9c" fill-opacity="0.95" stroke="#c09a5c" stroke-width="0.7"/>
<rect x="200.10" y="243.90" width="15.30" height="1.0" fill="#b0804a"/>
<path d="M202.90,244.60 L212.20,244.60 Q212.20,246.40 211.73,247.20 L211.50,258.30 C211.50,260.75 209.75,261.80 208.00,261.80 C206.25,261.80 204.50,260.75 204.50,258.30 L203.64,247.20 Q202.90,246.40 202.90,244.60 Z" fill="url(#rg2)"/>
<rect x="233.90" y="239.00" width="3.10" height="7.00" fill="#a68760"/>
<rect x="233.90" y="239.00" width="0.9" height="7.00" fill="#c0a47c"/>
<path d="M228.10,246.50 Q228.10,245.70 228.90,245.70 L243.60,245.70 Q244.40,245.70 244.40,246.50 L244.40,256.25 C244.40,261.73 240.98,263.10 237.55,263.10 L234.95,263.10 C231.52,263.10 228.10,261.73 228.10,256.25 Z" fill="url(#rg)"/>
<rect x="276.80" y="170.40" width="80.00" height="32.30" fill="url(#pbg2)"/>
<rect x="276.80" y="170.40" width="14" height="32.30" fill="url(#lm)"/>
<rect x="276.80" y="198.70" width="80.00" height="4" fill="#d2cdc7" opacity="0.6"/>
<rect x="355.30" y="170.40" width="1.5" height="32.30" fill="#dcd8d3" opacity="0.8"/>
<rect x="277.90" y="170.40" width="19.10" height="31.30" rx="2.5" fill="#ffffff" opacity="0.06"/>
<rect x="277.90" y="170.40" width="1.2" height="29.30" fill="#ffffff" opacity="0.25"/>
<rect x="295.80" y="170.40" width="1.2" height="29.30" fill="#ffffff" opacity="0.2"/>
<rect x="308.00" y="170.40" width="18.30" height="31.30" rx="2.5" fill="#ffffff" opacity="0.06"/>
<rect x="308.00" y="170.40" width="1.2" height="29.30" fill="#ffffff" opacity="0.25"/>
<rect x="325.10" y="170.40" width="1.2" height="29.30" fill="#ffffff" opacity="0.2"/>
<rect x="335.80" y="170.40" width="20.40" height="31.30" rx="2.5" fill="#ffffff" opacity="0.06"/>
<rect x="335.80" y="170.40" width="1.2" height="29.30" fill="#ffffff" opacity="0.25"/>
<rect x="355.00" y="170.40" width="1.2" height="29.30" fill="#ffffff" opacity="0.2"/>
<rect x="287.10" y="170.40" width="3.20" height="10.10" fill="#a68760"/>
<rect x="287.10" y="170.40" width="0.9" height="10.10" fill="#c0a47c"/>
<path d="M279.50,179.70 L295.40,179.70 L295.40,191.64 Q295.40,198.00 287.45,198.00 Q279.50,198.00 279.50,191.64 Z" fill="#cbbd9c" fill-opacity="0.95" stroke="#c09a5c" stroke-width="0.7"/>
<rect x="279.50" y="179.30" width="15.90" height="1.0" fill="#b0804a"/>
<path d="M282.00,180.50 L293.50,180.50 Q293.50,182.30 292.93,183.10 L292.40,193.80 C292.40,196.46 290.50,197.60 288.60,197.60 C286.70,197.60 284.80,196.46 284.80,193.80 L282.92,183.10 Q282.00,182.30 282.00,180.50 Z" fill="url(#rg2)"/>
<rect x="316.00" y="170.40" width="3.00" height="10.40" fill="#a68760"/>
<rect x="316.00" y="170.40" width="0.9" height="10.40" fill="#c0a47c"/>
<path d="M309.60,180.10 L324.70,180.10 L324.70,192.16 Q324.70,198.20 317.15,198.20 Q309.60,198.20 309.60,192.16 Z" fill="#cbbd9c" fill-opacity="0.95" stroke="#c09a5c" stroke-width="0.7"/>
<rect x="309.60" y="179.70" width="15.10" height="1.0" fill="#b0804a"/>
<path d="M312.00,180.80 L322.80,180.80 Q322.80,182.60 322.26,183.40 L321.80,193.90 C321.80,196.63 319.85,197.80 317.90,197.80 C315.95,197.80 314.00,196.63 314.00,193.90 L312.86,183.40 Q312.00,182.60 312.00,180.80 Z" fill="url(#rg2)"/>
<rect x="345.00" y="170.40" width="3.20" height="12.10" fill="#a68760"/>
<rect x="345.00" y="170.40" width="0.9" height="12.10" fill="#c0a47c"/>
<path d="M337.40,181.80 L354.60,181.80 L354.60,192.92 Q354.60,199.80 346.00,199.80 Q337.40,199.80 337.40,192.92 Z" fill="#cbbd9c" fill-opacity="0.95" stroke="#c09a5c" stroke-width="0.7"/>
<rect x="337.40" y="181.40" width="17.20" height="1.0" fill="#b0804a"/>
<path d="M339.00,182.50 L353.60,182.50 Q353.60,184.30 352.87,185.10 L352.50,193.40 C352.50,197.60 349.50,199.40 346.50,199.40 C343.50,199.40 340.50,197.60 340.50,193.40 L340.17,185.10 Q339.00,184.30 339.00,182.50 Z" fill="url(#rg2)"/>
<rect x="276.80" y="204.90" width="80.00" height="31.20" fill="url(#pbg2)"/>
<rect x="276.80" y="204.90" width="14" height="31.20" fill="url(#lm)"/>
<rect x="276.80" y="232.10" width="80.00" height="4" fill="#d2cdc7" opacity="0.6"/>
<rect x="355.30" y="204.90" width="1.5" height="31.20" fill="#dcd8d3" opacity="0.8"/>
<rect x="278.50" y="204.90" width="19.10" height="30.20" rx="2.5" fill="#ffffff" opacity="0.06"/>
<rect x="278.50" y="204.90" width="1.2" height="28.20" fill="#ffffff" opacity="0.25"/>
<rect x="296.40" y="204.90" width="1.2" height="28.20" fill="#ffffff" opacity="0.2"/>
<rect x="307.50" y="204.90" width="18.50" height="30.20" rx="2.5" fill="#ffffff" opacity="0.06"/>
<rect x="307.50" y="204.90" width="1.2" height="28.20" fill="#ffffff" opacity="0.25"/>
<rect x="324.80" y="204.90" width="1.2" height="28.20" fill="#ffffff" opacity="0.2"/>
<rect x="335.20" y="204.90" width="19.40" height="30.20" rx="2.5" fill="#ffffff" opacity="0.06"/>
<rect x="335.20" y="204.90" width="1.2" height="28.20" fill="#ffffff" opacity="0.25"/>
<rect x="353.40" y="204.90" width="1.2" height="28.20" fill="#ffffff" opacity="0.2"/>
<rect x="287.10" y="204.90" width="3.40" height="8.80" fill="#a68760"/>
<rect x="287.10" y="204.90" width="0.9" height="8.80" fill="#c0a47c"/>
<path d="M280.10,212.80 L296.00,212.80 L296.00,224.34 Q296.00,230.70 288.05,230.70 Q280.10,230.70 280.10,224.34 Z" fill="#cbbd9c" fill-opacity="0.95" stroke="#c09a5c" stroke-width="0.7"/>
<rect x="280.10" y="212.40" width="15.90" height="1.0" fill="#b0804a"/>
<path d="M282.90,213.70 L294.10,213.70 Q294.10,215.50 293.54,216.30 L292.60,226.70 C292.60,229.15 290.85,230.20 289.10,230.20 C287.35,230.20 285.60,229.15 285.60,226.70 L283.80,216.30 Q282.90,215.50 282.90,213.70 Z" fill="url(#rg2)"/>
<rect x="315.50" y="204.90" width="3.10" height="8.60" fill="#a68760"/>
<rect x="315.50" y="204.90" width="0.9" height="8.60" fill="#c0a47c"/>
<path d="M309.10,213.00 L324.40,213.00 L324.40,224.78 Q324.40,230.90 316.75,230.90 Q309.10,230.90 309.10,224.78 Z" fill="#cbbd9c" fill-opacity="0.95" stroke="#c09a5c" stroke-width="0.7"/>
<rect x="309.10" y="212.60" width="15.30" height="1.0" fill="#b0804a"/>
<path d="M311.30,213.50 L321.50,213.50 Q321.50,215.30 320.99,216.10 L320.80,226.80 C320.80,229.32 319.00,230.40 317.20,230.40 C315.40,230.40 313.60,229.32 313.60,226.80 L312.12,216.10 Q311.30,215.30 311.30,213.50 Z" fill="url(#rg2)"/>
<rect x="343.40" y="204.90" width="3.50" height="9.70" fill="#a68760"/>
<rect x="343.40" y="204.90" width="0.9" height="9.70" fill="#c0a47c"/>
<path d="M336.80,214.10 L353.00,214.10 L353.00,224.72 Q353.00,231.20 344.90,231.20 Q336.80,231.20 336.80,224.72 Z" fill="#cbbd9c" fill-opacity="0.95" stroke="#c09a5c" stroke-width="0.7"/>
<rect x="336.80" y="213.70" width="16.20" height="1.0" fill="#b0804a"/>
<path d="M338.30,214.60 L351.80,214.60 Q351.80,216.40 351.12,217.20 L349.40,226.50 C349.40,229.58 347.20,230.90 345.00,230.90 C342.80,230.90 340.60,229.58 340.60,226.50 L339.38,217.20 Q338.30,216.40 338.30,214.60 Z" fill="url(#rg2)"/>
<rect x="276.80" y="237.80" width="80.10" height="31.50" fill="url(#pbg2)"/>
<rect x="276.80" y="237.80" width="14" height="31.50" fill="url(#lm)"/>
<rect x="276.80" y="265.30" width="80.10" height="4" fill="#d2cdc7" opacity="0.6"/>
<rect x="355.40" y="237.80" width="1.5" height="31.50" fill="#dcd8d3" opacity="0.8"/>
<rect x="277.20" y="237.80" width="19.10" height="30.50" rx="2.5" fill="#ffffff" opacity="0.06"/>
<rect x="277.20" y="237.80" width="1.2" height="28.50" fill="#ffffff" opacity="0.25"/>
<rect x="295.10" y="237.80" width="1.2" height="28.50" fill="#ffffff" opacity="0.2"/>
<rect x="306.30" y="237.80" width="18.10" height="30.50" rx="2.5" fill="#ffffff" opacity="0.06"/>
<rect x="306.30" y="237.80" width="1.2" height="28.50" fill="#ffffff" opacity="0.25"/>
<rect x="323.20" y="237.80" width="1.2" height="28.50" fill="#ffffff" opacity="0.2"/>
<rect x="335.60" y="237.80" width="20.20" height="30.50" rx="2.5" fill="#ffffff" opacity="0.06"/>
<rect x="335.60" y="237.80" width="1.2" height="28.50" fill="#ffffff" opacity="0.25"/>
<rect x="354.60" y="237.80" width="1.2" height="28.50" fill="#ffffff" opacity="0.2"/>
<rect x="285.80" y="237.80" width="2.80" height="13.20" fill="#a68760"/>
<rect x="285.80" y="237.80" width="0.9" height="13.20" fill="#c0a47c"/>
<path d="M278.80,250.00 L294.70,250.00 L294.70,260.84 Q294.70,267.20 286.75,267.20 Q278.80,267.20 278.80,260.84 Z" fill="#cbbd9c" fill-opacity="0.95" stroke="#c09a5c" stroke-width="0.7"/>
<rect x="278.80" y="249.60" width="15.90" height="1.0" fill="#b0804a"/>
<path d="M282.40,251.20 L292.60,251.20 Q292.60,253.00 292.09,253.80 L291.80,263.80 C291.80,266.04 290.20,267.00 288.60,267.00 C287.00,267.00 285.40,266.04 285.40,263.80 L283.22,253.80 Q282.40,253.00 282.40,251.20 Z" fill="url(#rg2)"/>
<rect x="312.60" y="237.80" width="3.40" height="12.40" fill="#a68760"/>
<rect x="312.60" y="237.80" width="0.9" height="12.40" fill="#c0a47c"/>
<path d="M307.90,249.40 L322.80,249.40 L322.80,261.04 Q322.80,267.00 315.35,267.00 Q307.90,267.00 307.90,261.04 Z" fill="#cbbd9c" fill-opacity="0.95" stroke="#c09a5c" stroke-width="0.7"/>
<rect x="307.90" y="249.00" width="14.90" height="1.0" fill="#b0804a"/>
<path d="M310.10,250.40 L319.60,250.40 Q319.60,252.20 319.12,253.00 L318.90,263.65 C318.90,265.86 317.32,266.80 315.75,266.80 C314.18,266.80 312.60,265.86 312.60,263.65 L310.86,253.00 Q310.10,252.20 310.10,250.40 Z" fill="url(#rg2)"/>
<rect x="342.90" y="237.80" width="3.10" height="12.70" fill="#a68760"/>
<rect x="342.90" y="237.80" width="0.9" height="12.70" fill="#c0a47c"/>
<path d="M337.20,249.90 L354.20,249.90 L354.20,261.60 Q354.20,268.40 345.70,268.40 Q337.20,268.40 337.20,261.60 Z" fill="#cbbd9c" fill-opacity="0.95" stroke="#c09a5c" stroke-width="0.7"/>
<rect x="337.20" y="249.50" width="17.00" height="1.0" fill="#b0804a"/>
<path d="M338.70,250.50 L351.80,250.50 Q351.80,252.30 351.14,253.10 L350.20,263.90 C350.20,266.77 348.15,268.00 346.10,268.00 C344.05,268.00 342.00,266.77 342.00,263.90 L339.75,253.10 Q338.70,252.30 338.70,250.50 Z" fill="url(#rg2)"/>
<text x="166.50" y="165.00" font-size="6.1" text-anchor="start" font-weight="normal" fill="#111111" textLength="18.50" lengthAdjust="spacingAndGlyphs" stroke="#111111" stroke-width="0.18">Vehicle</text>
<text x="193.10" y="165.00" font-size="6.1" text-anchor="start" font-weight="normal" fill="#111111" textLength="32.90" lengthAdjust="spacingAndGlyphs" stroke="#111111" stroke-width="0.18">Zanubrutinib</text>
<text x="231.30" y="165.00" font-size="6.1" text-anchor="start" font-weight="normal" fill="#111111" textLength="21.20" lengthAdjust="spacingAndGlyphs" stroke="#111111" stroke-width="0.18">Ibrutinib</text>
<text x="273.90" y="165.00" font-size="6.1" text-anchor="start" font-weight="normal" fill="#111111" textLength="18.80" lengthAdjust="spacingAndGlyphs" stroke="#111111" stroke-width="0.18">Vehicle</text>
<text x="300.90" y="165.00" font-size="6.1" text-anchor="start" font-weight="normal" fill="#111111" textLength="33.00" lengthAdjust="spacingAndGlyphs" stroke="#111111" stroke-width="0.18">Zanubrutinib</text>
<text x="341.70" y="165.00" font-size="6.1" text-anchor="start" font-weight="normal" fill="#111111" textLength="20.80" lengthAdjust="spacingAndGlyphs" stroke="#111111" stroke-width="0.18">Ibrutinib</text>
<text x="164.30" y="188.90" font-size="6.0" text-anchor="end" font-weight="normal" fill="#111111" stroke="#111111" stroke-width="0.18">0 Min</text>
<text x="164.10" y="221.80" font-size="6.0" text-anchor="end" font-weight="normal" fill="#111111" stroke="#111111" stroke-width="0.18">15 Mins</text>
<text x="164.10" y="254.80" font-size="6.0" text-anchor="end" font-weight="normal" fill="#111111" stroke="#111111" stroke-width="0.18">30 Mins</text>
<text x="273.80" y="188.90" font-size="6.0" text-anchor="end" font-weight="normal" fill="#111111" stroke="#111111" stroke-width="0.18">45 Mins</text>
<text x="273.80" y="221.80" font-size="6.0" text-anchor="end" font-weight="normal" fill="#111111" stroke="#111111" stroke-width="0.18">60 Mins</text>
<text x="273.80" y="254.80" font-size="6.0" text-anchor="end" font-weight="normal" fill="#111111" stroke="#111111" stroke-width="0.18">120 Mins</text>
<text x="143.30" y="155.30" font-size="11.7" text-anchor="start" font-weight="bold" fill="#000">E</text>
<rect x="0.5" y="0.5" width="519" height="282" fill="none" stroke="#000" stroke-width="1"/>
</svg>
<div class="vl" style="left:8.83px;top:91.10px;font-size:8.0px;font-weight:normal;color:#111;-webkit-text-stroke:0.25px #111"><span style="transform:scaleX(0.6957)">Platelet aggregation %</span></div>
<div class="vl" style="left:148.03px;top:89.90px;font-size:8.0px;font-weight:normal;color:#111;-webkit-text-stroke:0.25px #111"><span style="transform:scaleX(0.7130)">Platelet aggregation %</span></div>
<div class="vl" style="left:292.63px;top:89.90px;font-size:8.0px;font-weight:normal;color:#111;-webkit-text-stroke:0.25px #111"><span style="transform:scaleX(0.7130)">Platelet aggregation %</span></div>
<div class="vl" style="left:7.23px;top:235.00px;font-size:8.0px;font-weight:normal;color:#111;-webkit-text-stroke:0.25px #111"><span style="transform:scaleX(0.7130)">Platelet aggregation %</span></div>
<div class="vl" style="left:373.63px;top:227.00px;font-size:8.0px;font-weight:normal;color:#111;-webkit-text-stroke:0.25px #111"><span style="transform:scaleX(0.7187)">Volume of serum (%)</span></div>
</body></html>
